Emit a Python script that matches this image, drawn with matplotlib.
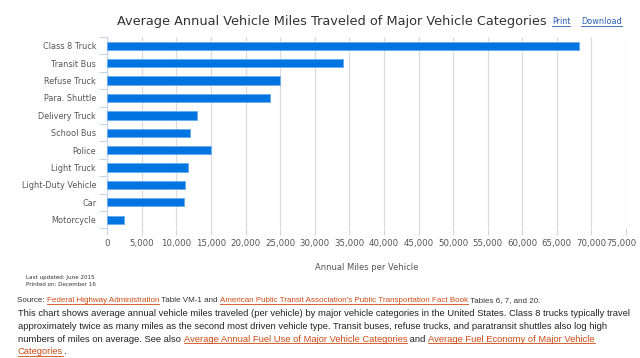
import matplotlib
matplotlib.use("Agg")
import matplotlib.pyplot as plt
from matplotlib.lines import Line2D
import matplotlib.transforms as mtransforms

categories = ["Class 8 Truck", "Transit Bus", "Refuse Truck", "Para. Shuttle",
              "Delivery Truck", "School Bus", "Police", "Light Truck",
              "Light-Duty Vehicle", "Car", "Motorcycle"]
miles = [68155, 34012, 25000, 23500, 12959, 12000, 15000, 11672, 11244, 11066, 2368]
xticks = list(range(0, 75001, 5000))
xtick_labels = [f"{v:,}" for v in xticks]

W, H = 640, 358
fig = plt.figure(figsize=(W / 100, H / 100), dpi=100)
fig.patch.set_facecolor("white")

def fx(px):
    return px / W

def fy(py):
    return 1 - py / H

ax = fig.add_axes([fx(107.3), fy(228.4), fx(626) - fx(107.3), fy(37.1) - fy(228.4)])
ypos = list(range(len(categories)))
ax.barh(ypos, miles, height=0.48, color="#0074e0", edgecolor="#6aaef0", linewidth=0.7, zorder=3)
ax.set_ylim(len(categories) - 0.5, -0.5)
ax.set_xlim(0, 75000)
ax.set_yticks(ypos)
ax.set_yticklabels(categories)
ax.set_yticks([i - 0.5 for i in range(len(categories) + 1)], minor=True)
ax.tick_params(axis="y", which="major", length=0, pad=8, labelsize=5.9, labelcolor="#555555")
ax.tick_params(axis="y", which="minor", length=6, color="#ccd6eb", width=0.8)
ax.set_xticks(xticks)
ax.set_xticklabels(xtick_labels)
ax.tick_params(axis="x", length=5, color="#ccd6eb", width=0.8, pad=2.5, labelsize=6.2, labelcolor="#555555")
# keep the last tick label inside the figure, as the reference does
last = ax.get_xticklabels()[-1]
last.set_transform(last.get_transform() + mtransforms.ScaledTranslation(-5 / 100, 0, fig.dpi_scale_trans))
ax.grid(axis="x", color="#dcdcdc", linewidth=0.9, zorder=0)
for s in ["top", "right", "bottom"]:
    ax.spines[s].set_visible(False)
ax.spines["left"].set_color("#ccd6eb")
ax.spines["left"].set_linewidth(0.9)
ax.set_xlabel("Annual Miles per Vehicle", fontsize=6.0, color="#555555", labelpad=11)

fig.text(fx(332), fy(25.5), "Average Annual Vehicle Miles Traveled of Major Vehicle Categories",
         ha="center", va="baseline", fontsize=9.3, color="#333333")

fig.canvas.draw()
renderer = fig.canvas.get_renderer()

def draw_segments(x_px, y_px, segments, size, family="Liberation Sans"):
    x = x_px
    for text, color, underline in segments:
        t = fig.text(fx(x), fy(y_px), text, ha="left", va="baseline",
                     fontsize=size, color=color, family=family)
        bb = t.get_window_extent(renderer=renderer)
        w = bb.width
        if underline:
            fig.add_artist(Line2D([fx(x), fx(x + w)], [fy(y_px + 1.6), fy(y_px + 1.6)],
                                  color=color, linewidth=0.6, transform=fig.transFigure))
        x += w

link = "#cc4a14"
txt = "#222222"

draw_segments(552, 24, [("Print", "#2a5db0", True)], 5.8, family="DejaVu Sans")
draw_segments(581, 24, [("Download", "#2a5db0", True)], 5.9, family="DejaVu Sans")

draw_segments(26, 279.5, [("Last updated: June 2015", "#333333", False)], 4.05, family="DejaVu Sans")
draw_segments(26, 286, [("Printed on: December 16", "#333333", False)], 4.05, family="DejaVu Sans")

draw_segments(17, 302, [
    ("Source: ", "#333333", False),
    ("Federal Highway Administration", link, True),
    (" Table VM-1 and ", "#333333", False),
    ("American Public Transit Association's Public Transportation Fact Book", link, True),
    (" Tables 6, 7, and 20.", "#333333", False),
], 5.73)

psize = 6.79
draw_segments(18, 316.5, [("This chart shows average annual vehicle miles traveled (per vehicle) by major vehicle categories in the United States. Class 8 trucks typically travel", txt, False)], psize)
draw_segments(18, 329, [("approximately twice as many miles as the second most driven vehicle type. Transit buses, refuse trucks, and paratransit shuttles also log high", txt, False)], psize)
draw_segments(18, 341.5, [
    ("numbers of miles on average. See also ", txt, False),
    ("Average Annual Fuel Use of Major Vehicle Categories", link, True),
    (" and ", txt, False),
    ("Average Fuel Economy of Major Vehicle", link, True),
], psize)
draw_segments(18, 354, [
    ("Categories", link, True),
    (".", txt, False),
], psize)

fig.savefig("out.png", dpi=100)
